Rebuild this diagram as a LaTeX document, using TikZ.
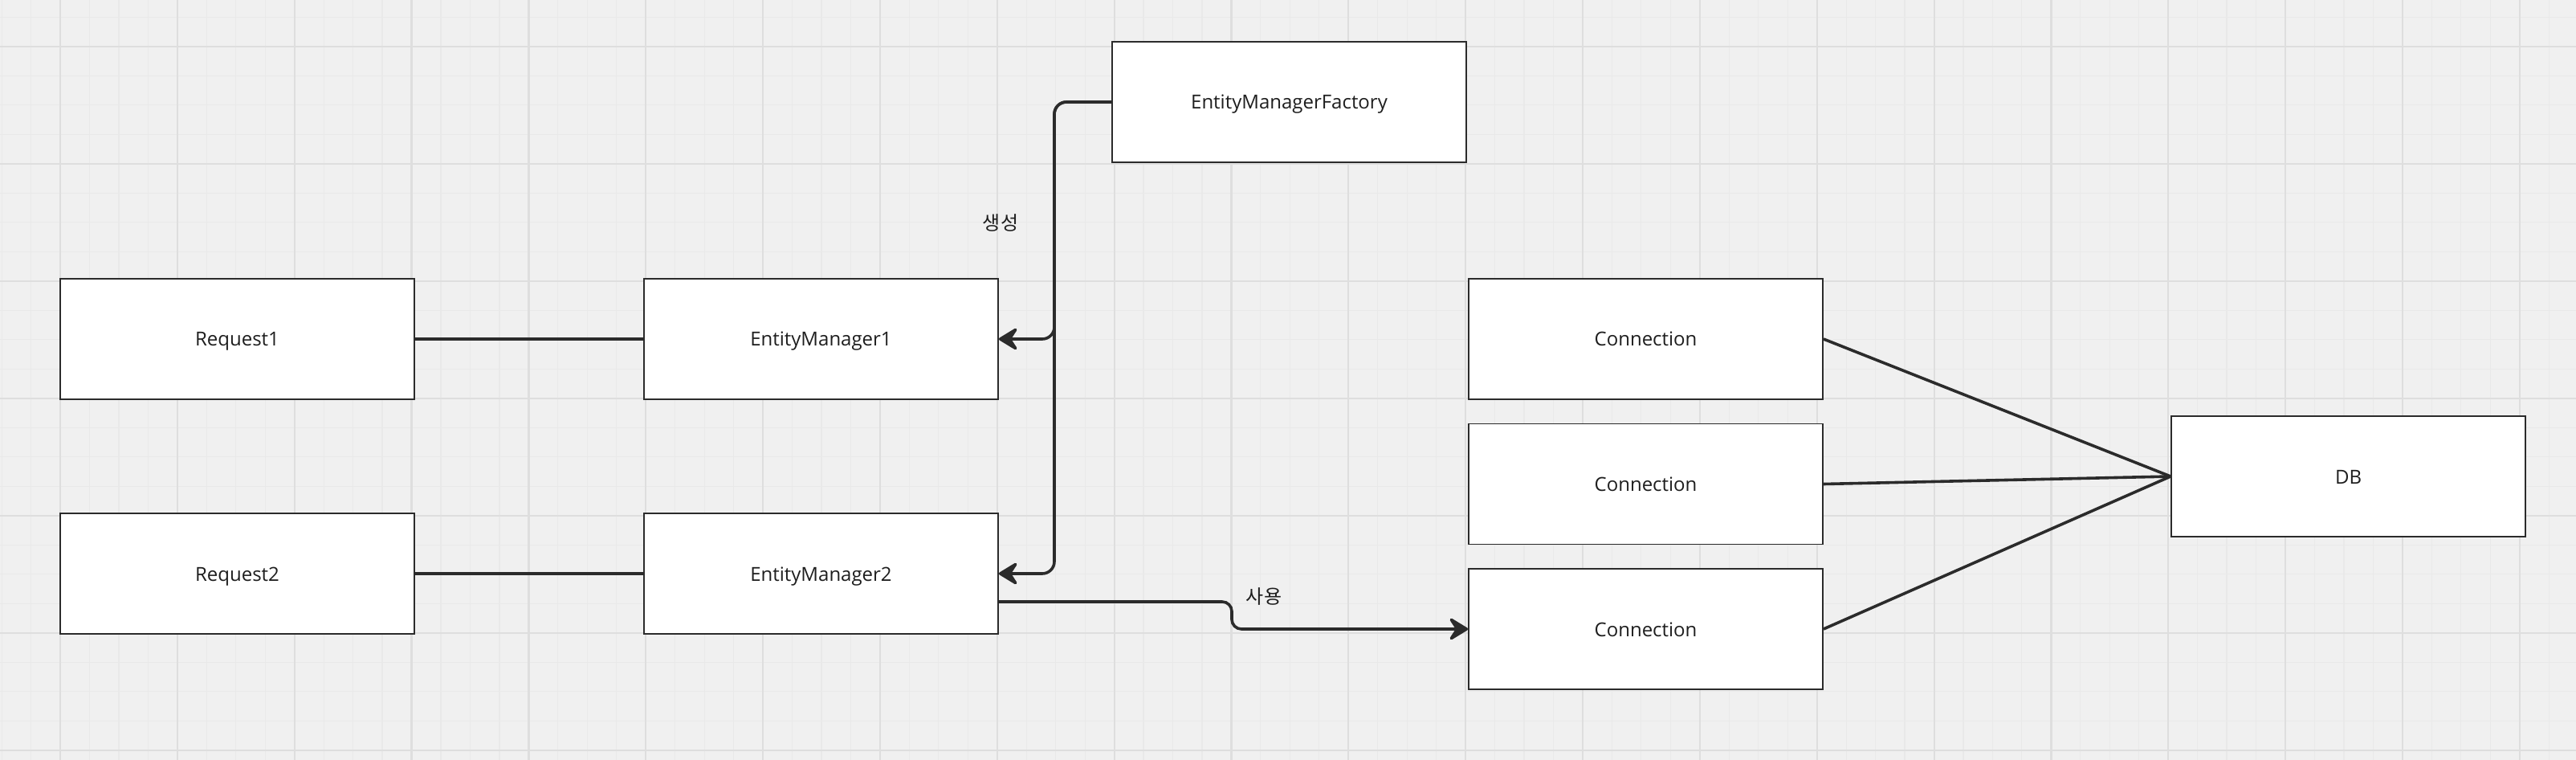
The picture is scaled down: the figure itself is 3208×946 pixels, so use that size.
\documentclass[tikz,border=0pt]{standalone}
\usepackage{fontspec}
\setmainfont{Open Sans}
\newfontfamily\kr{Noto Sans CJK KR}
\usetikzlibrary{arrows.meta}
\definecolor{bgc}{HTML}{F0F0F0}
\definecolor{minorc}{HTML}{E9E9E9}
\definecolor{majorc}{HTML}{DEDEDE}
\definecolor{inkc}{HTML}{2B2B2B}
\definecolor{txtc}{HTML}{1E1E1E}
\tikzset{
  box/.style={draw=inkc, line width=0.9pt, fill=white, minimum width=220.5pt, minimum height=75pt, inner sep=0pt, text=txtc, text height=9pt, text depth=0pt, font=\fontsize{12pt}{15pt}\selectfont},
  conn/.style={draw=inkc, line width=1.8pt},
  tip/.style={-{Stealth[length=14pt,width=17pt,inset=5.5pt,round]}},
  lbl/.style={text=txtc, font=\kr\fontsize{12pt}{15pt}\selectfont, inner sep=0pt},
  minorline/.style={draw=minorc, line width=0.6pt},
  majorline/.style={draw=majorc, line width=1.1pt}
}
\begin{document}
\begin{tikzpicture}[x=0.5pt,y=-0.5pt]
\fill[bgc] (0,0) rectangle (3208,946);
\useasboundingbox (0,0) rectangle (3208,946);
% grid
\foreach \i in {0,...,88} \draw[minorline] (2.1+36.46*\i,0) -- (2.1+36.46*\i,946);
\foreach \j in {0,...,25} \draw[minorline] (0,21.2+36.5*\j) -- (3208,21.2+36.5*\j);
\foreach \i in {0,...,21} \draw[majorline] (75+145.85*\i,0) -- (75+145.85*\i,946);
\foreach \j in {0,...,6} \draw[majorline] (0,57.7+146*\j) -- (3208,57.7+146*\j);
% nodes
\node[box] (emf) at (1605.5,127) {EntityManagerFactory};
\node[box] (req1) at (295.5,422) {Request1};
\node[box] (em1) at (1022.5,422) {EntityManager1};
\node[box] (req2) at (295.5,714) {Request2};
\node[box] (em2) at (1022.5,714) {EntityManager2};
\node[box] (c1) at (2049.5,422) {Connection};
\node[box] (c2) at (2049.5,602.5) {Connection};
\node[box] (c3) at (2049.5,783) {Connection};
\node[box] (db) at (2924.5,593) {DB};
\node[lbl] (lmake) at (1246,277) {생성};
\node[lbl] (luse) at (1574,743) {사용};
\coordinate (bus) at (1313,0);
\coordinate (kink) at (1534,0);
\coordinate (em2out) at ([yshift=-17.5pt]em2.east);
% connectors
\draw[conn] (req1.east) -- (em1.west);
\draw[conn] (req2.east) -- (em2.west);
\draw[conn,tip,rounded corners=7.5pt] (emf.west) -- (emf.west -| bus) -- (bus |- em1.east) -- (em1.east);
\draw[conn,tip,rounded corners=7.5pt] (emf.west) -- (emf.west -| bus) -- (bus |- em2.east) -- (em2.east);
\draw[conn,tip,rounded corners=6pt] (em2out) -- (em2out -| kink) -- (kink |- c3.west) -- (c3.west);
\draw[conn] (c1.east) -- (db.west);
\draw[conn] (c2.east) -- (db.west);
\draw[conn] (c3.east) -- (db.west);
\end{tikzpicture}
\end{document}
